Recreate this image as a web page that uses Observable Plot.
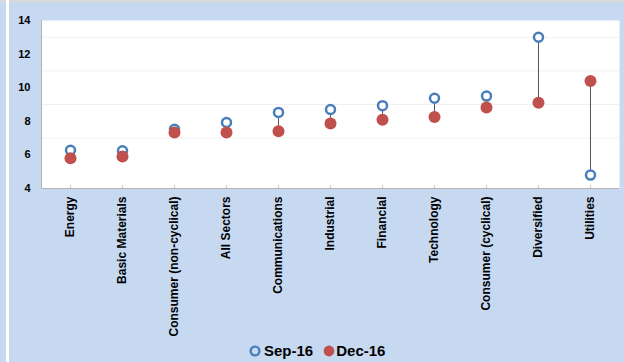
<!DOCTYPE html>
<html><head><meta charset="utf-8">
<script src="https://cdn.jsdelivr.net/npm/d3@7"></script>
<script src="https://cdn.jsdelivr.net/npm/@observablehq/plot@0.6"></script>
<style>
html,body{margin:0;padding:0;}
body{width:624px;height:362px;background:#c6d9f1;position:relative;overflow:hidden;font-family:"Liberation Sans",Arial,sans-serif;}
#strip{position:absolute;left:6px;top:0;width:3px;height:362px;background:#fff;}
#topline{position:absolute;left:0;top:0;width:624px;height:2px;background:#d9d9d9;}
#chart{position:absolute;left:0;top:0;}
#legend{position:absolute;top:341px;left:249px;height:20px;display:flex;align-items:center;font-weight:bold;font-size:15px;color:#000;line-height:20px;}
#legend svg{display:block;}
</style></head>
<body>
<div id="topline"></div>
<div id="strip"></div>
<div id="chart"></div>
<div id="legend">
  <svg width="12" height="12"><circle cx="6" cy="6" r="4.4" fill="none" stroke="#4a7ebb" stroke-width="2.4"/></svg>
  <span style="margin-left:3px">Sep-16</span>
  <svg width="12" height="12" style="margin-left:10px"><circle cx="6" cy="6" r="5.4" fill="#c0504d"/></svg>
  <span style="margin-left:1px">Dec-16</span>
</div>
<script>
const sectors = ["Energy","Basic Materials","Consumer (non-cyclical)","All Sectors","Communications","Industrial","Financial","Technology","Consumer (cyclical)","Diversified","Utilities"];
const sep16 = [6.28,6.25,7.52,7.93,8.53,8.7,8.93,9.37,9.5,13.0,4.8];
const dec16 = [5.8,5.9,7.33,7.33,7.41,7.87,8.09,8.25,8.82,9.1,10.4];
const yTicks = [4,6,8,10,12,14];
const yGrid = [7,9,11,13];
const yDomain = [4,14];

const rows = sectors.map((s,i)=>({sector:s, sep:sep16[i], dec:dec16[i]}));

const leftLine = (index, scales, values, dims) => {
  const l = document.createElementNS("http://www.w3.org/2000/svg","line");
  const x = dims.marginLeft + 0.5;
  l.setAttribute("x1", x); l.setAttribute("x2", x);
  l.setAttribute("y1", dims.marginTop); l.setAttribute("y2", dims.height - dims.marginBottom);
  l.setAttribute("stroke", "#b4b4b4");
  return l;
};

const chart = Plot.plot({
  width: 624, height: 362,
  marginLeft: 41, marginRight: 5, marginTop: 20, marginBottom: 174,
  style: {background: "transparent", color: "#000", fontFamily: "'Liberation Sans', Arial, sans-serif", overflow: "visible"},
  x: {type: "point", domain: sectors, padding: 0.5, label: null},
  y: {domain: yDomain, label: null},
  marks: [
    Plot.frame({fill: "white", stroke: null}),
    Plot.ruleY(yGrid, {stroke: "#f0f0f0"}),
    Plot.tickX(sectors, {x: d => d, stroke: "#cccccc", insetTop: 165}),
    Plot.ruleY([yDomain[0]], {stroke: "#b4b4b4"}),
    leftLine,
    Plot.ruleX(rows, {x: "sector", y1: "sep", y2: "dec", stroke: "#555555", strokeWidth: 1}),
    Plot.dot(rows, {x: "sector", y: "sep", r: 4.5, stroke: "#4a7ebb", strokeWidth: 2.5, fill: "white"}),
    Plot.dot(rows, {x: "sector", y: "dec", r: 6, fill: "#c0504d", stroke: null}),
    Plot.axisY({ticks: yTicks, tickSize: 0, tickPadding: 11, fontSize: 11, fontWeight: "bold", label: null}),
    Plot.axisX({tickSize: 0, tickPadding: 8, tickRotate: -90, fontSize: 12, fontWeight: "bold", label: null})
  ]
});
document.getElementById("chart").appendChild(chart);
</script>
</body></html>
